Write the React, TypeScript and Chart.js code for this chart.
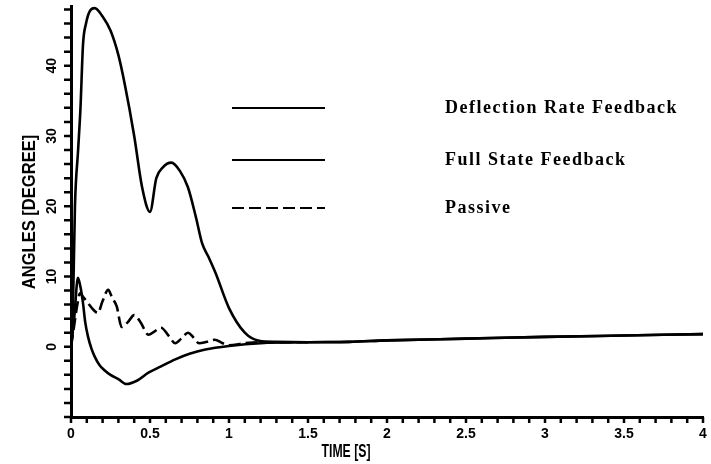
import React, { useEffect, useRef } from "react";
import { Chart, registerables } from "chart.js";

Chart.register(...registerables);

// ---- data (time in s, angle in degrees) ----
const drfTime = [0, 0.01, 0.025, 0.045, 0.06, 0.076, 0.095, 0.12, 0.15, 0.2, 0.25, 0.3, 0.34, 0.4, 0.45, 0.5, 0.54, 0.58, 0.635, 0.69, 0.74, 0.79, 0.83, 0.87, 0.915, 1.0, 1.1, 1.19, 1.3, 1.5, 1.76, 2, 2.5, 3, 3.5, 4];
const drfAngle = [0, 3, 20, 28, 34, 43, 46, 47.8, 48.2, 47, 45, 41.5, 37.4, 30, 22.7, 19.2, 24, 25.5, 26.2, 25, 22.7, 18.5, 14.7, 12.8, 10.5, 5.5, 2, 0.85, 0.7, 0.65, 0.7, 0.9, 1.15, 1.4, 1.6, 1.8];

const fsfTime = [0, 0.02, 0.044, 0.06, 0.076, 0.09, 0.108, 0.13, 0.15, 0.18, 0.21, 0.25, 0.3, 0.35, 0.42, 0.49, 0.57, 0.66, 0.75, 0.85, 1.0, 1.2, 1.5, 1.76, 2, 2.5, 3, 3.5, 4];
const fsfAngle = [0, 4, 9.8, 8.5, 6.2, 3.5, 1.4, -0.3, -1.4, -2.6, -3.3, -4, -4.6, -5.3, -4.8, -3.7, -2.8, -1.8, -1, -0.4, 0.1, 0.5, 0.65, 0.7, 0.9, 1.15, 1.4, 1.6, 1.8];

const pasTime = [0, 0.02, 0.04, 0.057, 0.08, 0.108, 0.14, 0.17, 0.2, 0.235, 0.26, 0.29, 0.32, 0.36, 0.4, 0.44, 0.49, 0.53, 0.57, 0.62, 0.66, 0.7, 0.74, 0.78, 0.81, 0.86, 0.91, 0.96, 1.0, 1.1, 1.2, 1.5];
const pasAngle = [0, 3, 6, 7.6, 7, 6.2, 5.3, 4.8, 6.5, 8.1, 7, 5.7, 2.8, 3.5, 4.5, 3.5, 1.7, 2.2, 2.7, 1.5, 0.5, 1.2, 2, 1.2, 0.5, 0.7, 1, 0.5, 0.2, 0.5, 0.65, 0.65];

const seriesLabels = ["Deflection Rate Feedback", "Full State Feedback", "Passive"];
const yTickLabels = [0, 10, 20, 30, 40];
const xLabelStep = 0.5;
const yMinorStep = 2;
const xMinorStep = 0.1;

const toPoints = (t: number[], v: number[]) => t.map((x, i) => ({ x, y: v[i] }));

const narrow = "'Liberation Sans Narrow', 'Liberation Sans', sans-serif";

const overlayPlugin = {
  id: "overlay",
  afterDraw(chart: any) {
    const ctx = chart.ctx;
    const y = chart.scales.y;
    const x = chart.scales.x;
    ctx.save();
    // minor tick marks
    ctx.strokeStyle = "#000";
    ctx.lineWidth = 2.5;
    ctx.setLineDash([]);
    ctx.beginPath();
    for (let k = Math.ceil(y.min / yMinorStep); k * yMinorStep <= y.max; k++) {
      const py = y.getPixelForValue(k * yMinorStep);
      ctx.moveTo(x.left - 7, py);
      ctx.lineTo(x.left, py);
    }
    for (let k = 0; k * xMinorStep <= x.max + 1e-9; k++) {
      const px = x.getPixelForValue(k * xMinorStep);
      ctx.moveTo(px, y.bottom);
      ctx.lineTo(px, y.bottom + 6);
    }
    ctx.stroke();

    ctx.fillStyle = "#000";
    // rotated y tick labels
    ctx.font = "bold 14px " + narrow;
    ctx.textAlign = "center";
    ctx.textBaseline = "middle";
    yTickLabels.forEach((v) => {
      ctx.save();
      ctx.translate(x.left - 19, y.getPixelForValue(v));
      ctx.rotate(-Math.PI / 2);
      ctx.fillText(String(v), 0, 0);
      ctx.restore();
    });
    // y title
    ctx.save();
    ctx.translate(30, 212);
    ctx.rotate(-Math.PI / 2);
    ctx.scale(0.92, 1);
    ctx.font = "bold 18px " + narrow;
    ctx.fillText("ANGLES [DEGREE]", 0, 0);
    ctx.restore();
    // x title
    ctx.save();
    ctx.translate(346, 452);
    ctx.scale(0.68, 1);
    ctx.font = "bold 18px " + narrow;
    ctx.fillText("TIME [S]", 0, 0);
    ctx.restore();
    // legend
    const rows = [108, 160, 208];
    chart.data.datasets.forEach((ds: any, i: number) => {
      const ly = rows[i];
      ctx.save();
      ctx.strokeStyle = ds.borderColor;
      ctx.lineWidth = 2;
      ctx.setLineDash(ds.borderDash || []);
      ctx.beginPath();
      ctx.moveTo(232, ly);
      ctx.lineTo(325, ly);
      ctx.stroke();
      ctx.restore();
      ctx.save();
      ctx.font = "bold 18px 'Liberation Serif', 'Times New Roman', serif";
      (ctx as any).letterSpacing = "1.5px";
      ctx.textAlign = "left";
      ctx.textBaseline = "middle";
      ctx.fillText(ds.label, 445, ly);
      ctx.restore();
    });
    ctx.restore();
  },
};

export default function App() {
  const ref = useRef<HTMLCanvasElement | null>(null);
  useEffect(() => {
    if (!ref.current) return;
    const chart = new Chart(ref.current, {
      type: "line",
      data: {
        datasets: [
          {
            label: seriesLabels[0],
            data: toPoints(drfTime, drfAngle),
            borderColor: "#000",
            borderWidth: 2.6,
            pointRadius: 0,
            cubicInterpolationMode: "monotone",
          },
          {
            label: seriesLabels[1],
            data: toPoints(fsfTime, fsfAngle),
            borderColor: "#000",
            borderWidth: 2.6,
            pointRadius: 0,
            cubicInterpolationMode: "monotone",
          },
          {
            label: seriesLabels[2],
            data: toPoints(pasTime, pasAngle),
            borderColor: "#000",
            borderWidth: 2.6,
            borderDash: [12, 5],
            pointRadius: 0,
            cubicInterpolationMode: "monotone",
          },
        ],
      },
      options: {
        responsive: false,
        animation: false,
        layout: { padding: { top: 6, right: 8, left: 0, bottom: 0 } },
        plugins: { legend: { display: false }, tooltip: { enabled: false } },
        scales: {
          x: {
            type: "linear",
            min: 0,
            max: 4,
            afterFit: (s: any) => { s.height = 47; },
            border: { display: true, color: "#000", width: 3 },
            grid: { display: false, drawTicks: true, tickLength: 8 },
            ticks: {
              stepSize: 0.5,
              autoSkip: false,
              maxRotation: 0,
              minRotation: 0,
              padding: 1,
              color: "#000",
              font: { family: narrow, size: 14, weight: "bold" },
              callback: (v: any) => String(Math.round(Number(v) / xLabelStep) * xLabelStep),
            },
            title: { display: false },
          },
          y: {
            type: "linear",
            min: -10,
            max: 48.5,
            afterFit: (s: any) => { s.width = 71; },
            border: { display: true, color: "#000", width: 3 },
            grid: { display: false },
            ticks: { display: false },
          },
        },
      },
      plugins: [overlayPlugin],
    } as any);
    return () => chart.destroy();
  }, []);
  return (
    <div style={{ position: "absolute", left: 0, top: 0, width: 711, height: 464, background: "#fff" }}>
      <canvas ref={ref} width={711} height={464} />
    </div>
  );
}
